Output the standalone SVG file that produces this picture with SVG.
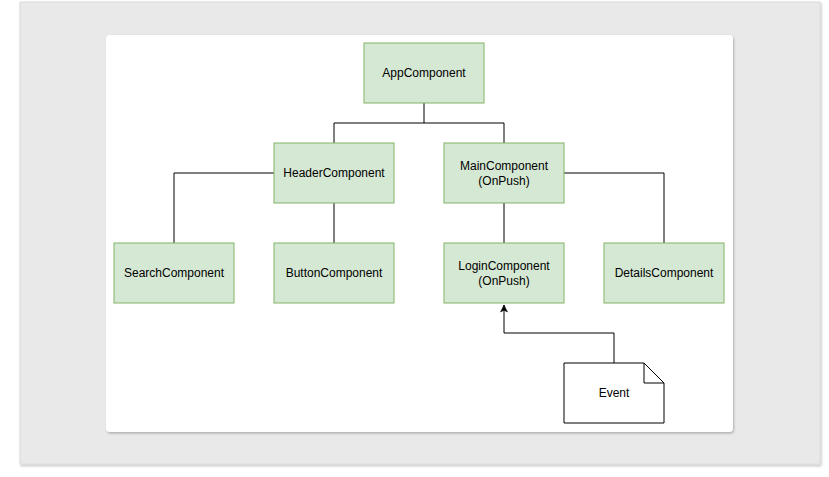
<svg xmlns="http://www.w3.org/2000/svg" width="829" height="477" viewBox="0 0 829 477">
<defs>
<filter id="sh" x="-5%" y="-5%" width="110%" height="110%"><feDropShadow dx="1" dy="1.5" stdDeviation="1.2" flood-color="#000" flood-opacity="0.25"/></filter>
<marker id="arr" markerWidth="10" markerHeight="10" refX="8" refY="5" orient="auto" markerUnits="userSpaceOnUse" viewBox="0 0 10 10"><path d="M1,1.5 L8,5 L1,8.5 L2.8,5 Z" fill="#000" stroke="#000" stroke-width="0.5"/></marker>
</defs>
<style>
.n{fill:#d5e8d4;stroke:#82b366;stroke-width:1}
.t{font-family:"Liberation Sans",Arial,sans-serif;font-size:12px;fill:#000;text-anchor:middle}
.c{fill:none;stroke:#000;stroke-width:1}
</style>
<rect x="20" y="2" width="800" height="462" fill="#e9e9e9" stroke="#dcdcdc" filter="url(#sh)"/>
<rect x="106" y="35" width="627" height="397" rx="4" fill="#fff" filter="url(#sh)"/>
<g id="connectors">
<path class="c" d="M424,103 V123 H334 V143"/>
<path class="c" d="M424,123 H504 V143"/>
<path class="c" d="M274,173 H174 V243"/>
<path class="c" d="M334,203 V243"/>
<path class="c" d="M504,203 V243"/>
<path class="c" d="M564,173 H664 V243"/>
<path class="c" d="M614,363 V333 H504 V305" marker-end="url(#arr)"/>
</g>
<g id="app"><rect class="n" x="364" y="43" width="120" height="60"/><text class="t" x="424" y="77">AppComponent</text></g>
<g id="header"><rect class="n" x="274" y="143" width="120" height="60"/><text class="t" x="334" y="177">HeaderComponent</text></g>
<g id="main"><rect class="n" x="444" y="143" width="120" height="60"/><text class="t" x="504" y="170">MainComponent</text><text class="t" x="504" y="185">(OnPush)</text></g>
<g id="search"><rect class="n" x="114" y="243" width="120" height="60"/><text class="t" x="174" y="277">SearchComponent</text></g>
<g id="button"><rect class="n" x="274" y="243" width="120" height="60"/><text class="t" x="334" y="277">ButtonComponent</text></g>
<g id="login"><rect class="n" x="444" y="243" width="120" height="60"/><text class="t" x="504" y="270">LoginComponent</text><text class="t" x="504" y="285">(OnPush)</text></g>
<g id="details"><rect class="n" x="604" y="243" width="120" height="60"/><text class="t" x="664" y="277">DetailsComponent</text></g>
<g id="event"><path d="M564,363 H644 L664,383 V423 H564 Z" fill="#fff" stroke="#000"/><path d="M644,363 V383 H664" fill="none" stroke="#000"/><text class="t" x="614" y="397">Event</text></g>
</svg>
